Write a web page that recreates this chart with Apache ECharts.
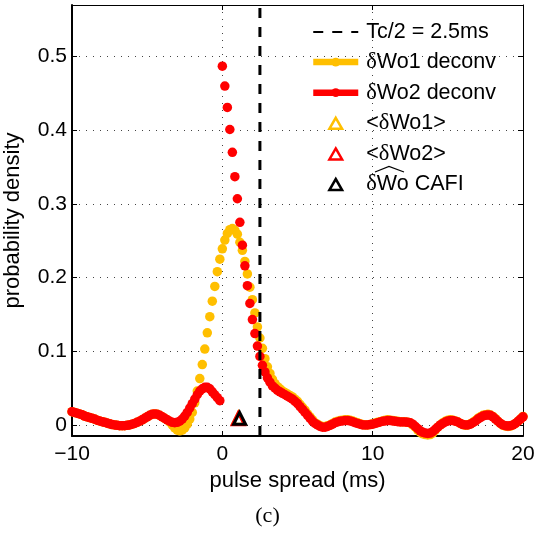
<!DOCTYPE html>
<html><head><meta charset="utf-8">
<script src="https://cdn.jsdelivr.net/npm/echarts@6/dist/echarts.min.js"></script>
<style>html,body{margin:0;padding:0;background:#fff}#c{width:535px;height:533px}</style>
</head><body><div id="c"></div>
<script>
// sample grid: pulse spread (ms), one sample every 1/6 ms from -10 to 20
const xStart = -10, xStep = 1 / 6, nSamples = 181;
const pulseSpread = Array.from({length: nSamples}, (_, i) => xStart + i * xStep);

// delta Wo2 deconv (red)
const wo2Deconv = [
  0.018, 0.017, 0.016, 0.015, 0.014, 0.012, 0.011, 0.010, 0.009, 0.008,
  0.0065, 0.0055, 0.0045, 0.0035, 0.0025, 0.0015, 0.0005, 0.0, -0.0005, -0.001,
  -0.001, -0.001, -0.0005, 0.0, 0.001, 0.002, 0.0035, 0.005, 0.007, 0.009,
  0.011, 0.013, 0.0145, 0.015, 0.0145, 0.013, 0.011, 0.009, 0.007, 0.005,
  0.0035, 0.003, 0.0035, 0.005, 0.008, 0.012, 0.017, 0.023, 0.029, 0.035,
  0.041, 0.046, 0.049, 0.051, 0.051, 0.049, 0.045, 0.041, 0.037, 0.033,
  0.487, 0.460, 0.431, 0.401, 0.370, 0.337, 0.307, 0.275, 0.244, 0.216,
  0.189, 0.165, 0.143, 0.124, 0.107, 0.093, 0.081, 0.072, 0.064, 0.058,
  0.053, 0.050, 0.047, 0.045, 0.043, 0.041, 0.039, 0.037, 0.035, 0.032,
  0.029, 0.025, 0.021, 0.017, 0.013, 0.009, 0.005, 0.002, 0.0, -0.002,
  -0.003, -0.003, -0.002, -0.0005, 0.001, 0.003, 0.004, 0.005, 0.0055, 0.006,
  0.006, 0.0055, 0.0045, 0.003, 0.002, 0.001, 0.0, 0.0, 0.0, 0.0005,
  0.001, 0.002, 0.003, 0.004, 0.005, 0.0055, 0.006, 0.006, 0.0055, 0.005,
  0.0045, 0.004, 0.004, 0.004, 0.0035, 0.003, 0.001, -0.002, -0.005, -0.008,
  -0.010, -0.011, -0.0115, -0.011, -0.009, -0.006, -0.003, 0.0, 0.002, 0.004,
  0.0055, 0.006, 0.006, 0.005, 0.004, 0.002, 0.0005, 0.0, 0.0, 0.001,
  0.003, 0.005, 0.008, 0.010, 0.012, 0.013, 0.0135, 0.013, 0.011, 0.008,
  0.005, 0.002, 0.0, -0.001, -0.0015, -0.001, 0.0, 0.002, 0.005, 0.008, 0.011
];

// delta Wo1 deconv (yellow)
const wo1Deconv = [
  0.018, 0.017, 0.016, 0.015, 0.014, 0.012, 0.011, 0.010, 0.009, 0.008,
  0.0065, 0.0055, 0.0045, 0.0035, 0.0025, 0.0015, 0.0005, 0.0, -0.0005, -0.001,
  -0.001, -0.001, -0.0005, 0.0, 0.001, 0.002, 0.0035, 0.005, 0.007, 0.009,
  0.011, 0.013, 0.0145, 0.015, 0.0145, 0.013, 0.011, 0.009, 0.007, 0.004,
  0.0, -0.004, -0.007, -0.008, -0.007, -0.004, 0.001, 0.008, 0.017, 0.030,
  0.046, 0.063, 0.082, 0.103, 0.125, 0.147, 0.168, 0.188, 0.208, 0.225,
  0.239, 0.251, 0.260, 0.265, 0.2665, 0.264, 0.259, 0.248, 0.237, 0.222,
  0.205, 0.187, 0.170, 0.152, 0.133, 0.118, 0.104, 0.090, 0.079, 0.070,
  0.062, 0.056, 0.052, 0.049, 0.046, 0.044, 0.042, 0.040, 0.038, 0.035,
  0.032, 0.028, 0.024, 0.020, 0.015, 0.011, 0.007, 0.003, 0.001, -0.001,
  -0.002, -0.002, -0.001, 0.0, 0.002, 0.004, 0.005, 0.006, 0.0065, 0.007,
  0.007, 0.0065, 0.0055, 0.004, 0.003, 0.0015, 0.0005, 0.0, 0.0, 0.0005,
  0.0015, 0.0025, 0.0035, 0.0045, 0.0055, 0.0065, 0.007, 0.0065, 0.006, 0.0055,
  0.005, 0.0045, 0.0045, 0.004, 0.0035, 0.0025, 0.0, -0.003, -0.007, -0.010,
  -0.012, -0.013, -0.0135, -0.013, -0.011, -0.007, -0.003, 0.0, 0.003, 0.005,
  0.0065, 0.007, 0.0065, 0.0055, 0.004, 0.002, 0.0005, -0.0005, 0.0, 0.0015,
  0.0035, 0.006, 0.009, 0.011, 0.013, 0.014, 0.0145, 0.0135, 0.0115, 0.0085,
  0.005, 0.002, -0.0005, -0.0015, -0.002, -0.0015, 0.0, 0.002, 0.005, 0.008, 0.0115
];

// mean markers [pulse spread, density]
const meanWo1 = [1.08, 0.009];
const meanWo2 = [1.06, 0.0085];
const cafiWo = [1.15, 0.009];

// Tc/2 marker
const tcHalf = 2.5;

// axes
const xMin = -10, xMax = 20, xInterval = 10;
const yMin = -0.015, yMax = 0.57;

const names = ['Tc/2 = 2.5ms', 'δWo1 deconv', 'δWo2 deconv', '<δWo1>', '<δWo2>', 'δWo CAFI'];
const YEL = '#FFBF00', RED = '#FF0000', BLK = '#000000';
const FONT = 'Liberation Sans';

const pairs = (ys) => ys.map((y, i) => [pulseSpread[i], y]);

const chart = echarts.init(document.getElementById('c'), null, {renderer: 'canvas'});
const gridStyle = {type: [1, 6], color: '#444', width: 1};
const TRI_ICON = 'path://M5,0L10,8.66L0,8.66Z';
const triLegend = (c) => ({icon: TRI_ICON, itemStyle: {color: 'transparent', borderColor: c, borderWidth: 2.5}});
chart.setOption({
  animation: false,
  backgroundColor: '#fff',
  grid: {left: 72, right: 12, top: 5, bottom: 97, containLabel: false, outerBoundsMode: 'none'},
  title: {
    text: '(c)', left: 'center', top: 500,
    textStyle: {fontFamily: 'Liberation Serif', fontSize: 22, fontWeight: 'normal', color: '#000'}
  },
  xAxis: [{
    type: 'value', min: xMin, max: xMax, interval: xInterval,
    name: 'pulse spread (ms)', nameLocation: 'middle', nameGap: 31,
    nameTextStyle: {fontFamily: FONT, fontSize: 22, color: '#000'},
    axisLine: {show: true, onZero: false, lineStyle: {color: '#000', width: 2}},
    axisTick: {show: true, inside: true, length: 5, lineStyle: {color: '#000'}},
    axisLabel: {fontFamily: FONT, fontSize: 21, color: '#000', margin: 8,
      formatter: v => v < 0 ? '\u2212' + Math.abs(v) : String(v)},
    splitLine: {show: true, lineStyle: gridStyle}
  }, {
    type: 'value', position: 'top', min: xMin, max: xMax, interval: xInterval,
    axisLine: {show: true, onZero: false, lineStyle: {color: '#000', width: 1}},
    axisTick: {show: true, inside: true, length: 5, lineStyle: {color: '#000'}},
    axisLabel: {show: false}, splitLine: {show: false}
  }],
  yAxis: [{
    type: 'value', min: yMin, max: yMax, splitNumber: 6,
    name: 'probability density', nameLocation: 'middle', nameGap: 48,
    nameTextStyle: {fontFamily: FONT, fontSize: 22, color: '#000'},
    axisLine: {show: true, onZero: false, lineStyle: {color: '#000', width: 2}},
    axisTick: {show: true, inside: true, length: 5, lineStyle: {color: '#000'}},
    axisLabel: {fontFamily: FONT, fontSize: 21, color: '#000', margin: 5,
      formatter: v => Math.abs(v * 10 - Math.round(v * 10)) < 1e-6 ? String(+v.toFixed(1)) : ''},
    splitLine: {show: true, lineStyle: gridStyle}
  }, {
    type: 'value', position: 'right', min: yMin, max: yMax, splitNumber: 6,
    axisLine: {show: true, onZero: false, lineStyle: {color: '#000', width: 1}},
    axisTick: {show: true, inside: true, length: 5, lineStyle: {color: '#000'}},
    axisLabel: {show: false}, splitLine: {show: false}
  }],
  legend: {
    orient: 'vertical', left: 310, top: 21, padding: 0, itemGap: 7.6,
    itemWidth: 45, itemHeight: 11, selectedMode: false, symbolKeepAspect: true,
    textStyle: {fontFamily: FONT, fontSize: 21.5, color: '#000', lineHeight: 21, padding: [0, 0, 0, 3],
      rich: {d: {fontFamily: 'Liberation Serif', fontSize: 22.5, lineHeight: 21, color: '#000'}}},
    formatter: n => n.replace('δ', '{d|δ}'),
    data: [
      {name: names[0], itemStyle: {opacity: 0}},
      {name: names[1], lineStyle: {width: 6.5, opacity: 1, color: YEL}},
      {name: names[2], lineStyle: {width: 6.5, opacity: 1, color: RED}},
      Object.assign({name: names[3]}, triLegend(YEL)),
      Object.assign({name: names[4]}, triLegend(RED)),
      Object.assign({name: names[5]}, triLegend(BLK))
    ]
  },
  series: [
    {
      name: names[0], type: 'line', z: 5, symbol: 'none',
      data: [[tcHalf, yMin], [tcHalf, yMax]],
      itemStyle: {color: BLK},
      lineStyle: {color: BLK, width: 3, type: [10, 9]}
    },
    {
      name: names[1], type: 'line', z: 2, symbol: 'circle', symbolSize: 9.5, showAllSymbol: true,
      data: pairs(wo1Deconv), itemStyle: {color: YEL}, lineStyle: {width: 0, opacity: 0, color: YEL}
    },
    {
      name: names[2], type: 'line', z: 3, symbol: 'circle', symbolSize: 9.5, showAllSymbol: true,
      data: pairs(wo2Deconv), itemStyle: {color: RED}, lineStyle: {width: 0, opacity: 0, color: RED}
    },
    {
      name: names[3], type: 'scatter', z: 6, symbol: 'triangle', symbolSize: 12,
      data: [meanWo1], itemStyle: {color: 'transparent', borderColor: YEL, borderWidth: 3, opacity: 1}
    },
    {
      name: names[4], type: 'scatter', z: 7, symbol: 'triangle', symbolSize: 12,
      data: [meanWo2], itemStyle: {color: 'transparent', borderColor: RED, borderWidth: 3, opacity: 1}
    },
    {
      name: names[5], type: 'scatter', z: 8, symbol: 'triangle', symbolSize: 12,
      data: [cafiWo], itemStyle: {color: 'transparent', borderColor: BLK, borderWidth: 3, opacity: 1}
    }
  ],
  graphic: [{
    type: 'polyline', z: 100,
    shape: {points: [[375, 172], [389, 166.5], [404, 172]]},
    style: {stroke: '#000', lineWidth: 1.3, fill: null}
  }]
});
</script>
</body></html>
